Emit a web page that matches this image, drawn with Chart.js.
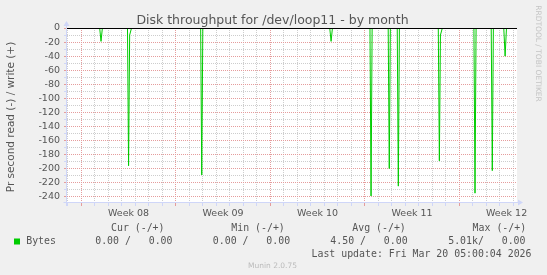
<!DOCTYPE html>
<html><head><meta charset="utf-8">
<script src="https://cdn.jsdelivr.net/npm/chart.js@4/dist/chart.umd.min.js"></script>
<style>html,body{margin:0;padding:0;background:#F0F0F0;}#wrap{width:547px;height:275px;position:relative;}canvas{display:block;}</style>
</head><body><div id="wrap"><canvas id="c" width="547" height="275"></canvas></div>
<script>
// ---- data (x = days since Mon 2026-02-16, start of Week 08) ----
const chartTitle = 'Disk throughput for /dev/loop11 - by month';
const yAxisTitle = 'Pr second read (-) / write (+)';
const watermark = 'RRDTOOL / TOBI OETIKER';
const versionText = 'Munin 2.0.75';
const xStart = -1.06, xEnd = 32.27;
const weekStarts = [0, 7, 14, 21, 28];
const weekLabels = ['Week 08', 'Week 09', 'Week 10', 'Week 11', 'Week 12'];
const yTickValues = [0, -10, -20, -30, -40, -50, -60, -70, -80, -90, -100, -110, -120, -130, -140, -150, -160, -170, -180, -190, -200, -210, -220, -230, -240];
const yMin = -249, yMax = 0;
const readDays = [-1.06,
  1.36, 1.46, 1.56,
  3.42, 3.50, 3.58, 3.72,
  8.84, 8.92, 9.00,
  18.40, 18.50, 18.60,
  21.38, 21.46, 21.54,
  22.73, 22.81, 22.89,
  23.40, 23.48, 23.56,
  26.44, 26.52, 26.60, 26.74,
  29.08, 29.16, 29.24,
  30.36, 30.44, 30.52,
  31.29, 31.39, 31.49,
  32.27];
const readBytes = [0,
  0, -19, 0,
  0, -196, -10, 0,
  0, -209, 0,
  0, -19, 0,
  0, -239, 0,
  0, -200, 0,
  0, -225, 0,
  0, -189, -10, 0,
  0, -235, 0,
  0, -203, 0,
  0, -40, 0,
  0];
const writeDays = [-1.06, 32.27];
const writeBytes = [0, 0];
const seriesName = 'Bytes';
const legendHeaders = ['Cur (-/+)', 'Min (-/+)', 'Avg (-/+)', 'Max (-/+)'];
const legendValues = ['0.00 /   0.00', '0.00 /   0.00', '4.50 /   0.00', '5.01k/   0.00'];
const lastUpdate = 'Last update: Fri Mar 20 05:00:04 2026';

// ---- styling ----
const GREEN = '#00CC00';
const GRID = '#CDCDCD', MGRID = '#E59C9C', AXIS = '#CFD6F8';
const TXT = '#555555';
const SANS = "'DejaVu Sans', sans-serif", MONO = "'DejaVu Sans Mono', monospace";

const xTickValues = [];
for (let d = -1; d <= 32; d++) xTickValues.push(d);
weekStarts.forEach(w => xTickValues.push(w + 3.5));
xTickValues.sort((a, b) => a - b);
const midLabel = {};
weekStarts.forEach((w, i) => { midLabel[w + 3.5] = weekLabels[i]; });
const isMajorX = v => Number.isInteger(v) && ((v % 7) + 7) % 7 === 0;

const deco = {
  id: 'deco',
  beforeDraw(chart) {
    const { ctx, chartArea: a } = chart;
    ctx.save();
    ctx.fillStyle = '#F0F0F0'; ctx.fillRect(0, 0, chart.width, chart.height);
    ctx.fillStyle = '#FFFFFF'; ctx.fillRect(a.left, a.top, a.right - a.left, a.bottom - a.top);
    ctx.restore();
  },
  afterDatasetsDraw(chart) {
    const { ctx, chartArea: a, scales: { y } } = chart;
    ctx.save();
    const y0 = Math.round(y.getPixelForValue(0)) + 0.5;
    ctx.strokeStyle = '#000000'; ctx.lineWidth = 1;
    ctx.beginPath(); ctx.moveTo(a.left, y0); ctx.lineTo(a.right, y0); ctx.stroke();
    // axes
    const ax = Math.round(a.left) - 0.5, ay = Math.round(a.bottom) - 0.5;
    ctx.strokeStyle = AXIS; ctx.fillStyle = AXIS;
    ctx.beginPath(); ctx.moveTo(ax, a.bottom + 3); ctx.lineTo(ax, a.top - 3); ctx.stroke();
    ctx.beginPath(); ctx.moveTo(ax - 3, ay); ctx.lineTo(a.right + 2, ay); ctx.stroke();
    ctx.beginPath(); ctx.moveTo(ax - 3, a.top - 2); ctx.lineTo(ax + 3, a.top - 2); ctx.lineTo(ax, a.top - 7); ctx.closePath(); ctx.fill();
    ctx.beginPath(); ctx.moveTo(a.right + 1, ay - 3); ctx.lineTo(a.right + 1, ay + 3); ctx.lineTo(a.right + 6, ay); ctx.closePath(); ctx.fill();
    ctx.restore();
  },
  afterDraw(chart) {
    const { ctx } = chart;
    ctx.save();
    ctx.fillStyle = TXT;
    ctx.font = '12.5px ' + SANS; ctx.textAlign = 'center'; ctx.textBaseline = 'alphabetic';
    ctx.fillText(chartTitle, 272.5, 23.5);
    // y title
    ctx.save();
    ctx.translate(11.5, 117); ctx.rotate(-Math.PI / 2);
    ctx.font = '10.5px ' + SANS; ctx.textAlign = 'center'; ctx.textBaseline = 'middle';
    ctx.fillText(yAxisTitle, 0, 0);
    ctx.restore();
    // watermark
    ctx.save();
    ctx.translate(537.5, 53.5); ctx.rotate(Math.PI / 2);
    ctx.fillStyle = '#C4C4C4'; ctx.font = '7.5px ' + SANS; ctx.textAlign = 'center'; ctx.textBaseline = 'middle';
    ctx.fillText(watermark, 0, 0);
    ctx.restore();
    // legend
    ctx.font = '9.9px ' + MONO; ctx.textAlign = 'left'; ctx.textBaseline = 'middle'; ctx.fillStyle = TXT;
    const colX = [111, 231.3, 352.3, 472.6];
    const valX = [95.2, 212.8, 330.3, 448.2];
    legendHeaders.forEach((h, i) => ctx.fillText(h, colX[i], 228.6));
    legendValues.forEach((v, i) => ctx.fillText(v, valX[i], 241.5));
    ctx.fillText(seriesName, 26.2, 241.5);
    ctx.fillText(lastUpdate, 311.5, 254.1);
    ctx.fillStyle = GREEN; ctx.fillRect(14, 238.5, 6, 6);
    ctx.fillStyle = '#BBBBBB'; ctx.font = '7.5px ' + SANS; ctx.textAlign = 'center';
    ctx.fillText(versionText, 272.5, 266.3);
    ctx.restore();
  }
};

new Chart(document.getElementById('c'), {
  type: 'line',
  data: {
    datasets: [
      { label: seriesName + ' read', data: readDays.map((d, i) => ({ x: d, y: readBytes[i] })),
        borderColor: GREEN, borderWidth: 1, pointRadius: 0, tension: 0, fill: false, clip: 0 },
      { label: seriesName + ' write', data: writeDays.map((d, i) => ({ x: d, y: writeBytes[i] })),
        borderColor: GREEN, borderWidth: 1, pointRadius: 0, tension: 0, fill: false, clip: 0 }
    ]
  },
  options: {
    responsive: false, animation: false, events: [],
    layout: { padding: { left: 0, right: 30, top: 28, bottom: 0 } },
    plugins: { legend: { display: false }, title: { display: false }, tooltip: { enabled: false } },
    scales: {
      x: {
        type: 'linear', min: xStart, max: xEnd,
        afterBuildTicks: s => { s.ticks = xTickValues.map(v => ({ value: v })); },
        afterFit: s => { s.height = 72; },
        ticks: {
          autoSkip: false, maxRotation: 0, minRotation: 0, padding: 1.5,
          color: TXT, font: { family: SANS, size: 9.5 },
          callback: v => midLabel[v] || ''
        },
        grid: {
          drawTicks: true, tickLength: 3,
          color: c => { const v = c.tick.value; return !Number.isInteger(v) ? 'rgba(0,0,0,0)' : (isMajorX(v) ? MGRID : GRID); },
          tickColor: c => { const v = c.tick.value; return !Number.isInteger(v) ? 'rgba(0,0,0,0)' : (isMajorX(v) ? MGRID : AXIS); }
        },
        border: { display: false, dash: [1, 1] }
      },
      y: {
        type: 'linear', min: yMin, max: yMax,
        afterBuildTicks: s => { s.ticks = yTickValues.map(v => ({ value: v })); },
        afterFit: s => { s.width = 67; },
        ticks: {
          autoSkip: false, padding: 4, color: TXT, font: { family: SANS, size: 9.5 },
          callback: v => (v % 20 === 0 ? String(v) : '')
        },
        grid: {
          drawTicks: true, tickLength: 3,
          color: c => c.tick.value === 0 ? 'rgba(0,0,0,0)' : (c.tick.value % 20 === 0 ? MGRID : GRID),
          tickColor: c => c.tick.value % 20 === 0 ? MGRID : AXIS
        },
        border: { display: false, dash: [1, 1] }
      }
    }
  },
  plugins: [deco]
});
</script>
</body></html>
